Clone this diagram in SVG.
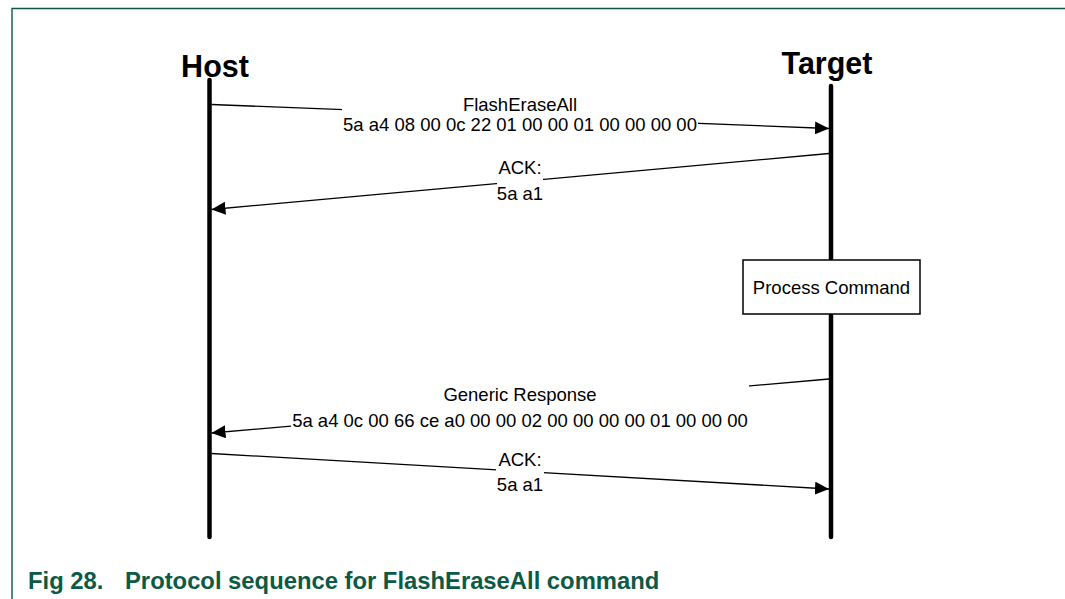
<svg xmlns="http://www.w3.org/2000/svg" width="1065" height="599" viewBox="0 0 1065 599">
  <style>
    .frame { stroke: #0b5a45; stroke-width: 1.4; fill: none; }
    .life { stroke: #000; stroke-width: 4.5; stroke-linecap: round; fill: none; }
    .msg { stroke: #000; stroke-width: 1.3; fill: none; marker-end: url(#arrow); }
    .lbl { font-family: "Liberation Sans", Arial, sans-serif; font-size: 18.5px; fill: #000; text-anchor: middle; }
    .bg { fill: #fff; stroke: none; }
    .actor { font-family: "Liberation Sans", Arial, sans-serif; font-weight: bold; font-size: 30.5px; fill: #000; text-anchor: middle; }
    .cap { font-family: "Liberation Sans", Arial, sans-serif; font-weight: bold; font-size: 23.8px; fill: #0b5a45; }
    .box { fill: #fff; stroke: #000; stroke-width: 1.5; }
  </style>
  <defs>
    <marker id="arrow" markerUnits="userSpaceOnUse" viewBox="0 0 14 13" refX="14" refY="6.5" markerWidth="14" markerHeight="13" orient="auto">
      <path d="M0,0 L14,6.5 L0,13 Z" fill="#000"/>
    </marker>
  </defs>
  <rect width="1065" height="599" fill="#fff"/>
  <g id="frame">
    <path class="frame" d="M12,599 V8.5 H1065"/>
  </g>
  <g id="host">
    <text class="actor" x="215" y="77">Host</text>
    <line class="life" x1="209.5" y1="80" x2="209.5" y2="537"/>
  </g>
  <g id="target">
    <text class="actor" x="827" y="74">Target</text>
    <line class="life" x1="831" y1="86" x2="831" y2="537"/>
  </g>
  <g id="process-command">
    <rect class="box" x="743" y="260" width="177" height="54"/>
    <text class="lbl" x="831.5" y="294">Process Command</text>
  </g>
  <g id="connectors">
    <line class="msg" x1="211.5" y1="104.5" x2="829" y2="128.5"/>
    <line class="msg" x1="829" y1="153.5" x2="211.5" y2="209.5"/>
    <line class="msg" x1="829" y1="379" x2="211.5" y2="433"/>
    <line class="msg" x1="211.5" y1="453.5" x2="829" y2="489"/>
  </g>
  <g id="label-flasheraseall">
    <rect class="bg" x="342" y="94" width="356" height="42"/>
    <text class="lbl" x="520" y="111">FlashEraseAll</text>
    <text class="lbl" x="520" y="131">5a a4 08 00 0c 22 01 00 00 01 00 00 00 00</text>
  </g>
  <g id="label-ack1">
    <rect class="bg" x="497" y="157" width="46" height="48"/>
    <text class="lbl" x="520" y="174">ACK:</text>
    <text class="lbl" x="520" y="200">5a a1</text>
  </g>
  <g id="label-generic-response">
    <rect class="bg" x="291" y="383" width="458" height="49"/>
    <text class="lbl" x="520" y="401">Generic Response</text>
    <text class="lbl" x="520" y="427">5a a4 0c 00 66 ce a0 00 00 02 00 00 00 00 01 00 00 00</text>
  </g>
  <g id="label-ack2">
    <rect class="bg" x="496" y="449" width="48" height="47"/>
    <text class="lbl" x="520" y="466">ACK:</text>
    <text class="lbl" x="520" y="491">5a a1</text>
  </g>
  <g id="caption">
    <text class="cap" x="28" y="589">Fig 28.</text>
    <text class="cap" x="125" y="589">Protocol sequence for FlashEraseAll command</text>
  </g>
</svg>
